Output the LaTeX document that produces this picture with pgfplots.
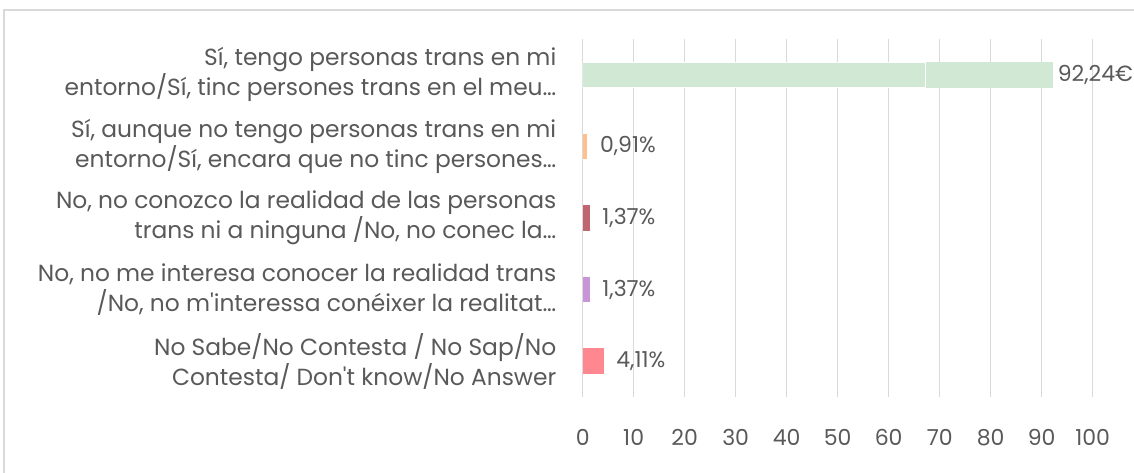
\documentclass[border=0pt]{standalone}
\usepackage{fontspec}
\setmainfont{Poppins}[Ligatures=TeXOff]
\usepackage{pgfplots}
\pgfplotsset{compat=1.18}
\definecolor{txtgray}{RGB}{89,89,89}
\definecolor{gridgray}{RGB}{217,217,217}
\definecolor{framegray}{RGB}{217,217,217}
\definecolor{barA}{RGB}{208,232,212}
\definecolor{barB}{RGB}{255,192,140}
\definecolor{barC}{RGB}{192,102,112}
\definecolor{barD}{RGB}{200,150,215}
\definecolor{barE}{RGB}{255,136,144}

\begin{document}
\begin{tikzpicture}
\useasboundingbox (-437pt,-57pt) rectangle (413.5pt,297.75pt);
\draw[framegray, line width=1.2pt] (-434pt,-60pt) -- (-434pt,290.25pt) -- (420pt,290.25pt);
\begin{axis}[
at={(0,0)}, anchor=south west,
width=382.5pt, height=268.5pt, scale only axis,
xbar, bar width=19.3pt, bar shift=0pt,
xmin=0, xmax=100, xtick={0,10,...,100},
ymin=-0.5, ymax=4.5, y dir=reverse,
ytick={0,1,2,3,4},
yticklabels={
{Sí, tengo personas trans en mi\\entorno/Sí, tinc persones trans en el meu…},
{Sí, aunque no tengo personas trans en mi\\entorno/Sí, encara que no tinc persones…},
{No, no conozco la realidad de las personas\\trans ni a ninguna /No, no conec la…},
{No, no me interesa conocer la realidad trans\\/No, no m'interessa conéixer la realitat…},
{No Sabe/No Contesta / No Sap/No\\Contesta/ Don't know/No Answer}},
yticklabel style={align=right, xshift=-12pt, text=txtgray, font={\fontsize{17.5pt}{22.5pt}\selectfont}},
xticklabel style={yshift=-21pt, text=txtgray, font={\fontsize{16.5pt}{20pt}\selectfont}},
/pgf/number format/assume math mode=true,
axis line style={draw=none},
major tick style={draw=none},
xmajorgrids, major grid style={gridgray, line width=1.1pt},
nodes near coords style={anchor=west, text=txtgray, font={\fontsize{16.5pt}{20pt}\selectfont}},
]
\addplot[fill=barA, draw=none, nodes near coords={92,24€}] coordinates {(92.24,0)};
\addplot[fill=barA, draw=white, line width=0.6pt] coordinates {(67.3,0)};
\addplot[fill=barB, draw=none, nodes near coords={0,91\%}, nodes near coords style={xshift=6pt}] coordinates {(0.91,1)};
\addplot[fill=barC, draw=none, nodes near coords={1,37\%}, nodes near coords style={xshift=6pt}] coordinates {(1.37,2)};
\addplot[fill=barD, draw=none, nodes near coords={1,37\%}, nodes near coords style={xshift=6pt}] coordinates {(1.37,3)};
\addplot[fill=barE, draw=none, nodes near coords={4,11\%}, nodes near coords style={xshift=6pt}] coordinates {(4.11,4)};
\end{axis}
\end{tikzpicture}
\end{document}
